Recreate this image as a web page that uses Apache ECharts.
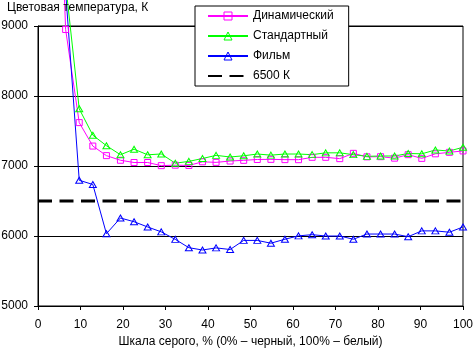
<!DOCTYPE html>
<html>
<head>
<meta charset="utf-8">
<script src="https://cdn.jsdelivr.net/npm/echarts@6/dist/echarts.min.js"></script>
<style>
html,body{margin:0;padding:0;background:#fff;}
#chart{width:473px;height:349px;}
</style>
</head>
<body>
<div id="chart"></div>
<script>
// Gray-scale levels, % (x positions of measured points)
const grayLevels = [3.2, 6.5, 9.7, 12.9, 16.1, 19.4, 22.6, 25.8, 29.0, 32.3, 35.5, 38.7, 41.9, 45.2, 48.4,
  51.6, 54.8, 58.1, 61.3, 64.5, 67.7, 71.0, 74.2, 77.4, 80.6, 83.9, 87.1, 90.3, 93.5, 96.8, 100];

const dynamicValues = [14300, 8950, 7620, 7285, 7148, 7082, 7050, 7050, 7005, 7012, 7008, 7060, 7052, 7071, 7081,
  7093, 7095, 7091, 7090, 7124, 7124, 7105, 7181, 7131, 7133, 7112, 7162, 7109, 7174, 7195, 7215];

const standardValues = [null, 9600, 7817, 7440, 7290, 7161, 7240, 7160, 7172, 7040, 7066, 7107, 7152, 7129, 7146,
  7171, 7155, 7171, 7171, 7162, 7188, 7188, 7162, 7138, 7143, 7143, 7179, 7174, 7229, 7214, 7268];

const filmValues = [null, 9500, 6796, 6736, 6033, 6257, 6204, 6129, 6059, 5952, 5833, 5800, 5830, 5807, 5937,
  5937, 5897, 5954, 6002, 6019, 6000, 6000, 5954, 6028, 6028, 6028, 5990, 6073, 6073, 6054, 6129];

const referenceX = [0, 100];
const referenceValues = [6500, 6500];

const seriesNames = ['Динамический', 'Стандартный', 'Фильм', '6500 К'];
const yTitle = 'Цветовая температура, К';
const xTitle = 'Шкала серого, % (0% – черный, 100% – белый)';

function pairs(xs, ys) { return xs.map((x, i) => [x, ys[i]]); }

const FONT = "'Liberation Sans', Arial, sans-serif";
const chart = echarts.init(document.getElementById('chart'), null, {renderer: 'canvas'});

function markerSeries(name, values, color, symbol, size) {
  return {
    name: name,
    type: 'line',
    data: pairs(grayLevels, values),
    clip: false,
    animation: false,
    symbol: symbol,
    symbolSize: size,
    showAllSymbol: true,
    lineStyle: {color: color, width: 1},
    itemStyle: {color: 'rgba(0,0,0,0)', borderColor: color, borderWidth: 1},
    emphasis: {disabled: true}
  };
}

chart.setOption({
  backgroundColor: '#fff',
  animation: false,
  textStyle: {fontFamily: FONT},
  title: {
    text: yTitle,
    left: 7, top: 2, padding: 0,
    textStyle: {fontSize: 12, fontWeight: 'normal', color: '#000', fontFamily: FONT}
  },
  grid: {
    left: 38, right: 10, top: 26, bottom: 43,
    containLabel: false, outerBoundsMode: 'none',
    show: true, borderColor: '#000', borderWidth: 1, backgroundColor: 'transparent'
  },
  legend: {
    orient: 'vertical',
    left: 195, top: 6,
    padding: [4, 15, 4, 12],
    itemWidth: 40, itemHeight: 10, itemGap: 8,
    backgroundColor: '#fff', borderColor: '#000', borderWidth: 1,
    itemStyle: {color: 'rgba(0,0,0,0)', borderWidth: 1},
    textStyle: {fontSize: 12, color: '#000', fontFamily: FONT},
    data: seriesNames,
    selectedMode: false
  },
  xAxis: {
    type: 'value', min: 0, max: 100, interval: 10,
    name: xTitle, nameLocation: 'middle', nameGap: 30,
    nameTextStyle: {fontSize: 12, color: '#000', fontFamily: FONT},
    axisLine: {show: true, lineStyle: {color: '#000', width: 1}},
    axisTick: {show: true, inside: false, length: 4, lineStyle: {color: '#000'}},
    axisLabel: {fontSize: 12, color: '#000', margin: 13, fontFamily: FONT},
    splitLine: {show: false}
  },
  yAxis: {
    type: 'value', min: 5000, max: 9000, interval: 1000,
    axisLine: {show: true, lineStyle: {color: '#000', width: 1}},
    axisTick: {show: true, inside: false, length: 4, lineStyle: {color: '#000'}},
    axisLabel: {fontSize: 12, color: '#000', margin: 10, fontFamily: FONT,
      formatter: function (v) { return String(v); }},
    splitLine: {show: true, lineStyle: {color: '#000', width: 1}}
  },
  series: [
    markerSeries(seriesNames[0], dynamicValues, '#FF00FF', 'rect', 6),
    markerSeries(seriesNames[1], standardValues, '#00FF00', 'triangle', [7, 6]),
    markerSeries(seriesNames[2], filmValues, '#0000FF', 'triangle', [7, 6]),
    {
      name: seriesNames[3],
      type: 'line',
      data: pairs(referenceX, referenceValues),
      symbol: 'none',
      animation: false,
      lineStyle: {color: '#000', width: 3, type: [14, 7.5]},
      itemStyle: {color: 'rgba(0,0,0,0)', borderColor: 'rgba(0,0,0,0)', borderWidth: 0},
      emphasis: {disabled: true}
    }
  ]
});
</script>
</body>
</html>
